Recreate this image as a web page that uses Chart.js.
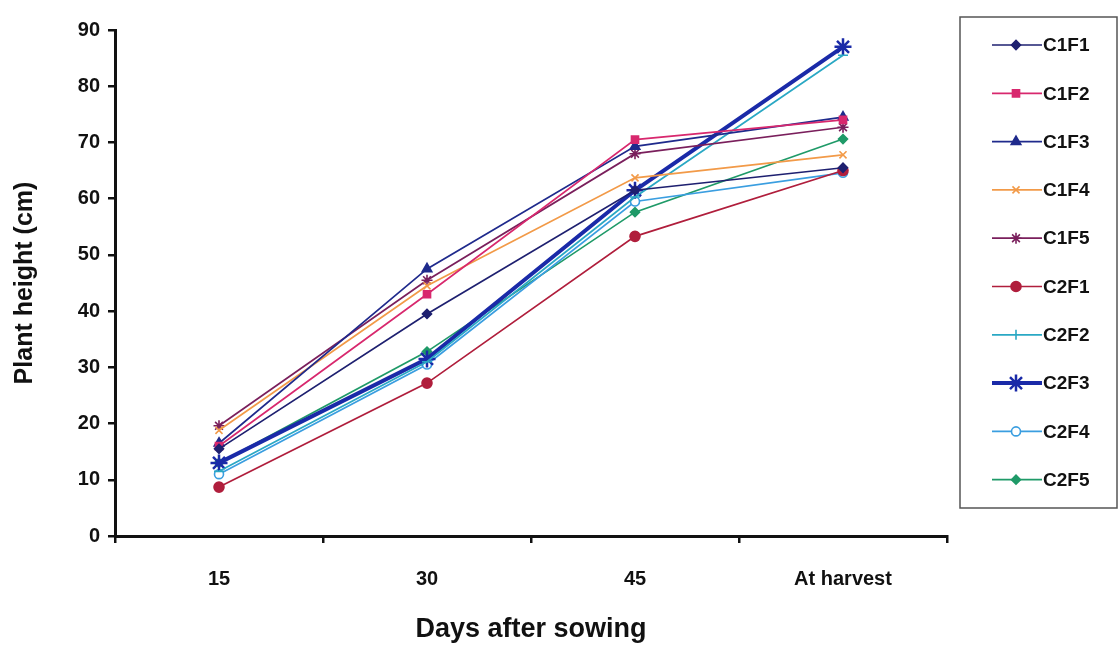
<!doctype html>
<html lang="en">
<head>
  <meta charset="utf-8">
  <title>Plant height</title>
  <script src="https://cdn.jsdelivr.net/npm/chart.js"></script>
  <style>
    html, body { margin: 0; padding: 0; background: #fff; }
    #wrap { width: 1119px; height: 646px; }
  </style>
</head>
<body>
  <div id="wrap"><canvas id="chart"></canvas></div>

  <script>
    const labels = ['15', '30', '45', 'At harvest'];

    const C1F1 = [15.5, 39.5, 61.5, 65.5];
    const C1F2 = [16.0, 43.0, 70.5, 74.0];
    const C1F3 = [16.5, 47.5, 69.3, 74.5];
    const C1F4 = [18.8, 44.5, 63.7, 67.8];
    const C1F5 = [19.6, 45.5, 68.0, 72.7];
    const C2F1 = [8.7, 27.2, 53.3, 65.0];
    const C2F2 = [11.5, 31.0, 60.3, 85.5];
    const C2F3 = [13.0, 31.5, 61.5, 87.0];
    const C2F4 = [11.0, 30.5, 59.5, 64.6];
    const C2F5 = [13.0, 32.8, 57.6, 70.6];

    function series(label, data, color, pointStyle, radius, width, fill) {
      return {
        label: label,
        data: data,
        borderColor: color,
        backgroundColor: fill || color,
        borderWidth: width || 1.7,
        pointStyle: pointStyle,
        pointRadius: radius,
        pointBorderColor: color,
        pointBackgroundColor: fill || color,
        pointBorderWidth: width ? 2.5 : 1.6,
        tension: 0,
        fill: false
      };
    }

    const datasets = [
      series('C1F1', C1F1, '#1e2070', 'rectRot', 4.5),
      series('C1F2', C1F2, '#d8286e', 'rect', 5),
      series('C1F3', C1F3, '#1f2a8c', 'triangle', 5.5),
      series('C1F4', C1F4, '#f29a48', 'crossRot', 5),
      series('C1F5', C1F5, '#7a1f5c', 'star', 5.5),
      series('C2F1', C2F1, '#b01e3c', 'circle', 5),
      series('C2F2', C2F2, '#2aa8c4', 'line', 5),
      series('C2F3', C2F3, '#1a2aa8', 'star', 8.5, 4),
      series('C2F4', C2F4, '#3a9ee0', 'circle', 4.5, null, '#ffffff'),
      series('C2F5', C2F5, '#1f9a68', 'rectRot', 4.5)
    ];

    // legend box drawn by hand: line + marker + label, like the original
    const boxLegend = {
      id: 'boxLegend',
      afterDraw(chart) {
        const ctx = chart.ctx;
        const left = 960, top = 17, right = 1117, bottom = 508;
        ctx.save();
        ctx.strokeStyle = '#555';
        ctx.lineWidth = 1.5;
        ctx.strokeRect(left, top, right - left, bottom - top);
        chart.data.datasets.forEach((ds, i) => {
          const y = 45 + i * 48.3;
          ctx.strokeStyle = ds.borderColor;
          ctx.lineWidth = ds.borderWidth;
          ctx.beginPath();
          ctx.moveTo(992, y);
          ctx.lineTo(1042, y);
          ctx.stroke();
          ctx.fillStyle = ds.pointBackgroundColor;
          ctx.strokeStyle = ds.pointBorderColor;
          ctx.lineWidth = ds.pointBorderWidth;
          if (ds.pointStyle === 'line') {
            ctx.beginPath();
            ctx.moveTo(1016, y - 5);
            ctx.lineTo(1016, y + 5);
            ctx.stroke();
          } else {
            Chart.helpers.drawPoint(ctx, {
              pointStyle: ds.pointStyle,
              radius: ds.pointRadius,
              rotation: 0,
              borderWidth: ds.pointBorderWidth
            }, 1016, y);
          }
          ctx.fillStyle = '#111';
          ctx.font = 'bold 19px "Liberation Sans", Arial, sans-serif';
          ctx.textBaseline = 'middle';
          ctx.textAlign = 'left';
          ctx.fillText(ds.label, 1043, y + 1);
        });
        ctx.restore();
      }
    };

    const fam = '"Liberation Sans", Arial, sans-serif';
    const tickFont = { family: fam, size: 20, weight: 'bold' };

    new Chart(document.getElementById('chart'), {
      type: 'line',
      data: { labels: labels, datasets: datasets },
      options: {
        responsive: true,
        maintainAspectRatio: false,
        animation: false,
        layout: { padding: { top: 30, right: 172, left: 4, bottom: 0 } },
        plugins: {
          legend: { display: false },
          tooltip: { enabled: false }
        },
        scales: {
          x: {
            offset: true,
            afterFit(scale) { scale.height = 110; },
            grid: { display: true, offset: true, drawOnChartArea: false, drawTicks: true, tickLength: 7, color: '#111', lineWidth: 2.5 },
            border: { display: true, color: '#111', width: 3 },
            ticks: { color: '#111', font: tickFont, padding: 24 },
            title: { display: true, text: 'Days after sowing', color: '#111', font: { family: fam, size: 27, weight: 'bold' }, padding: { top: 14, bottom: 0 } }
          },
          y: {
            min: 0,
            max: 90,
            afterFit(scale) { scale.width = 111; },
            ticks: { stepSize: 10, color: '#111', font: tickFont, padding: 8 },
            grid: { display: true, drawOnChartArea: false, drawTicks: true, tickLength: 7, color: '#111', lineWidth: 2.5 },
            border: { display: true, color: '#111', width: 3 },
            title: { display: true, text: 'Plant height (cm)', color: '#111', font: { family: fam, size: 25, weight: 'bold' }, padding: { top: 6, bottom: 0 } }
          }
        }
      },
      plugins: [boxLegend]
    });
  </script>
</body>
</html>
